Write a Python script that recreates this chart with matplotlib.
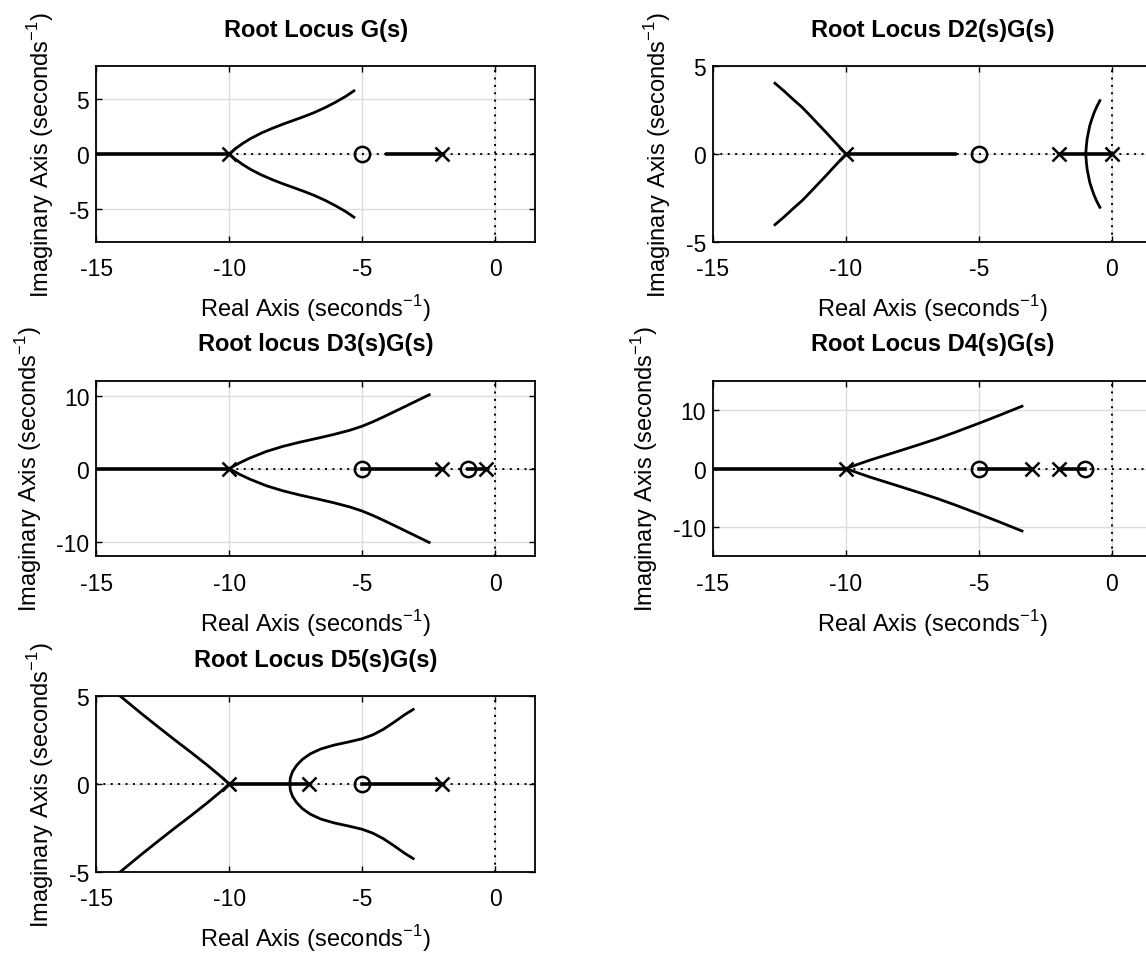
import matplotlib
matplotlib.use("Agg")
import matplotlib.pyplot as plt
import numpy as np

plt.rcParams['font.family'] = ['Liberation Sans', 'DejaVu Sans']
plt.rcParams['axes.unicode_minus'] = False

# ---- panel 1: G(s)
p1_poles = [-10, -2]
p1_zeros = [-5]
p1_real = [[-16, -10], [-4.07, -2]]
p1_cx = [-10, -9.8, -9.5, -9.2, -8.8, -8.4, -8.0, -7.6, -7.2, -6.8, -6.4, -6.0, -5.6, -5.31]
p1_cy = [0, 0.42, 0.95, 1.40, 1.90, 2.32, 2.70, 3.05, 3.40, 3.78, 4.22, 4.72, 5.28, 5.76]

# ---- panel 2: D2(s)G(s)
p2_poles = [-10, -2, 0]
p2_zeros = [-5]
p2_real = [[-10, -5.9], [-2, 0]]
p2_lx = [-10, -10.23, -10.50, -10.73, -11.05, -11.35, -11.65, -11.98, -12.30, -12.67]
p2_ly = [0, 0.38, 0.82, 1.20, 1.71, 2.19, 2.66, 3.10, 3.55, 4.03]
p2_ax = [-0.98, -0.96, -0.93, -0.88, -0.83, -0.75, -0.66, -0.56, -0.45]
p2_ay = [0, 0.45, 0.86, 1.25, 1.62, 2.00, 2.38, 2.72, 3.04]

# ---- panel 3: D3(s)G(s)
p3_poles = [-10, -2, -0.33]
p3_zeros = [-5, -1]
p3_real = [[-16, -10], [-5, -2], [-1, -0.33]]
p3_cx = [-10, -9.60, -9.22, -8.60, -7.97, -7.34, -6.72, -6.09, -5.46, -5.00, -4.60, -4.21, -3.58, -2.96, -2.48]
p3_cy = [0, 0.80, 1.45, 2.35, 3.05, 3.62, 4.12, 4.65, 5.25, 5.80, 6.40, 7.05, 8.15, 9.25, 10.10]

# ---- panel 4: D4(s)G(s)
p4_poles = [-10, -3, -2]
p4_zeros = [-5, -1]
p4_real = [[-16, -10], [-5, -3], [-2, -1]]
p4_cx = [-10, -9.55, -9.09, -8.46, -7.83, -7.21, -6.58, -5.95, -5.00, -4.20, -3.38]
p4_cy = [0, 0.74, 1.46, 2.36, 3.26, 4.16, 5.10, 6.12, 7.75, 9.17, 10.67]

# ---- panel 5: D5(s)G(s)
p5_poles = [-10, -7, -2]
p5_zeros = [-5]
p5_real = [[-10, -7], [-5, -2]]
p5_lx = [-10, -10.33, -10.83, -11.45, -12.08, -12.71, -13.33, -14.09, -14.20]
p5_ly = [0, 0.45, 1.08, 1.82, 2.55, 3.30, 4.05, 5.00, 5.15]
p5_rx = [-7.72, -7.70, -7.62, -7.47, -7.25, -6.95, -6.55, -6.05, -5.50, -5.00, -4.60, -4.20, -3.80, -3.40, -3.08]
p5_ry = [0, 0.35, 0.70, 1.05, 1.40, 1.72, 2.00, 2.22, 2.40, 2.58, 2.80, 3.12, 3.52, 3.95, 4.25]

titles = ["Root Locus G(s)", "Root Locus D2(s)G(s)", "Root locus D3(s)G(s)",
          "Root Locus D4(s)G(s)", "Root Locus D5(s)G(s)"]
ylims = [8, 5, 12, 15, 5]
yticks = [[-5, 0, 5], [-5, 0, 5], [-10, 0, 10], [-10, 0, 10], [-5, 0, 5]]

FS = 17
TFS = 16.5
LW = 2.0

fig = plt.figure(figsize=(11.46, 9.54), dpi=100)
left_x = [0.0840, 0.6222]
bottoms = [0.7456, 0.4158, 0.0852]
W, H = 0.3828, 0.1839
slots = [(0, 0), (0, 1), (1, 0), (1, 1), (2, 0)]


def setup(ax, i):
    ax.set_xlim(-15, 1.5)
    ax.set_ylim(-ylims[i], ylims[i])
    ax.set_xticks([-15, -10, -5, 0])
    ax.set_yticks(yticks[i])
    ax.grid(True, color='#dcdcdc', linewidth=1.0)
    ax.set_axisbelow(True)
    ax.tick_params(direction='in', top=True, right=True, length=4, width=1.0,
                   labelsize=TFS)
    ax.tick_params(axis='x', pad=11)
    ax.tick_params(axis='y', pad=5)
    for sp in ax.spines.values():
        sp.set_linewidth(1.3)
    ax.axhline(0, color='k', linestyle=(0, (1, 2.8)), linewidth=1.4, zorder=1.5)
    ax.axvline(0, color='k', linestyle=(0, (1, 2.8)), linewidth=1.4, zorder=1.5)
    ax.set_title(titles[i], fontsize=FS, fontweight='bold', pad=22)
    ax.set_xlabel('Real Axis (seconds$^{\\mathregular{-1}}$)', fontsize=FS, labelpad=9)
    ax.set_ylabel('Imaginary Axis (seconds$^{\\mathregular{-1}}$)', fontsize=FS, labelpad=9)


def pz(ax, poles, zeros):
    ax.plot(poles, np.zeros(len(poles)), 'x', color='k', markersize=10, mew=1.8, zorder=4)
    ax.plot(zeros, np.zeros(len(zeros)), 'o', color='k', mfc='none', markersize=11, mew=1.8, zorder=4)


def real_segs(ax, segs):
    for s in segs:
        ax.plot(s, [0, 0], color='k', linewidth=LW + 0.6, zorder=3)


def pair(ax, x, y):
    ax.plot(x, y, color='k', linewidth=LW, zorder=3)
    ax.plot(x, -np.array(y), color='k', linewidth=LW, zorder=3)


axes = []
for i, (r, c) in enumerate(slots):
    ax = fig.add_axes([left_x[c], bottoms[r], W, H])
    setup(ax, i)
    axes.append(ax)

ax = axes[0]
real_segs(ax, p1_real)
pair(ax, p1_cx, p1_cy)
pz(ax, p1_poles, p1_zeros)

ax = axes[1]
real_segs(ax, p2_real)
pair(ax, p2_lx, p2_ly)
pair(ax, p2_ax, p2_ay)
pz(ax, p2_poles, p2_zeros)

ax = axes[2]
real_segs(ax, p3_real)
pair(ax, p3_cx, p3_cy)
pz(ax, p3_poles, p3_zeros)

ax = axes[3]
real_segs(ax, p4_real)
pair(ax, p4_cx, p4_cy)
pz(ax, p4_poles, p4_zeros)

ax = axes[4]
real_segs(ax, p5_real)
pair(ax, p5_lx, p5_ly)
pair(ax, p5_rx, p5_ry)
pz(ax, p5_poles, p5_zeros)

fig.savefig("out.png", dpi=100)
